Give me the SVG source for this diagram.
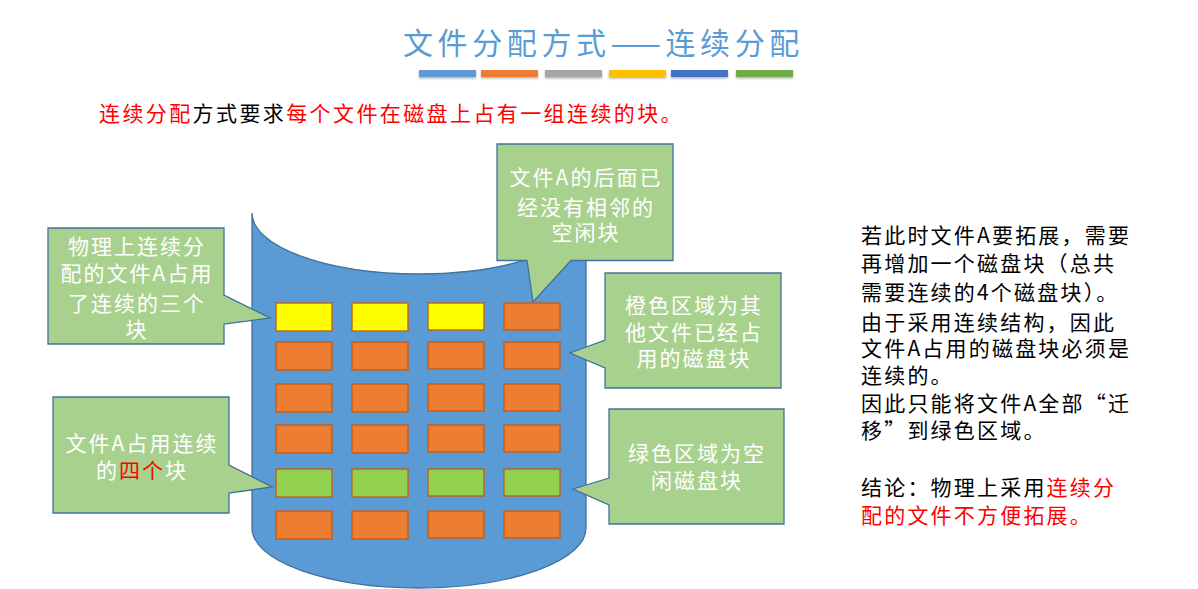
<svg xmlns="http://www.w3.org/2000/svg" width="1198" height="589" viewBox="0 0 1198 589">
<defs>
<style>
.cjk{font-family:"Noto Sans CJK SC","Noto Sans",sans-serif;}
.title{font-size:30px;fill:#5B9BD5;letter-spacing:4.6px;}
.sub{font-size:21px;letter-spacing:2.4px;}
.co{fill:#A9D18E;stroke:#41719C;stroke-width:1.3;}
.ct{font-size:21px;fill:#FFFFFF;letter-spacing:2px;text-anchor:middle;}
.rt{font-size:21px;fill:#000000;letter-spacing:2.2px;}
.red{fill:#FF0000;}
.blk{stroke:#C55A11;stroke-width:1.3;}
.y{fill:#FFFF00;}
.o{fill:#ED7D31;}
.g{fill:#92D050;}
</style>
<filter id="sh" x="-10%" y="-50%" width="120%" height="250%">
<feDropShadow dx="0" dy="1.5" stdDeviation="1.2" flood-color="#000" flood-opacity="0.3"/>
</filter>
</defs>
<rect width="1198" height="589" fill="#FFFFFF"/>

<g id="title">
<text class="cjk title" x="403" y="54">文件分配方式——连续分配</text>
<g filter="url(#sh)">
<rect x="419" y="70" width="57" height="7" fill="#5B9BD5"/>
<rect x="481" y="70" width="57" height="7" fill="#ED7D31"/>
<rect x="545" y="70" width="57" height="7" fill="#A5A5A5"/>
<rect x="609" y="70" width="57" height="7" fill="#FFC000"/>
<rect x="671" y="70" width="57" height="7" fill="#4472C4"/>
<rect x="736" y="70" width="57" height="7" fill="#70AD47"/>
</g>
</g>

<g id="subtitle">
<text class="cjk sub" x="99" y="121"><tspan class="red">连续分配</tspan><tspan fill="#000000">方式要求</tspan><tspan class="red">每个文件在磁盘上占有一组连续的块。</tspan></text>
</g>

<g id="disk">
<path d="M252,213 A167,61 0 0 0 586,213 L586,528 A167,60 0 0 1 252,528 Z" fill="#5B9BD5" stroke="#41719C" stroke-width="1.3"/>
<g id="blocks">
<rect class="blk y" x="276" y="303" width="56" height="28"/>
<rect class="blk y" x="352" y="303" width="56" height="28"/>
<rect class="blk y" x="428" y="303" width="56" height="27"/>
<rect class="blk o" x="504" y="303" width="56" height="27"/>

<rect class="blk o" x="276" y="342" width="56" height="28"/>
<rect class="blk o" x="352" y="342" width="56" height="28"/>
<rect class="blk o" x="428" y="342" width="56" height="27"/>
<rect class="blk o" x="504" y="342" width="56" height="27"/>

<rect class="blk o" x="276" y="384" width="56" height="28"/>
<rect class="blk o" x="352" y="384" width="56" height="28"/>
<rect class="blk o" x="428" y="384" width="56" height="27"/>
<rect class="blk o" x="504" y="384" width="56" height="27"/>

<rect class="blk o" x="276" y="425" width="56" height="28"/>
<rect class="blk o" x="352" y="425" width="56" height="28"/>
<rect class="blk o" x="428" y="425" width="56" height="27"/>
<rect class="blk o" x="504" y="425" width="56" height="27"/>

<rect class="blk g" x="276" y="469" width="56" height="28"/>
<rect class="blk g" x="352" y="469" width="56" height="28"/>
<rect class="blk g" x="428" y="469" width="56" height="27"/>
<rect class="blk g" x="504" y="469" width="56" height="27"/>

<rect class="blk o" x="276" y="511" width="56" height="28"/>
<rect class="blk o" x="352" y="511" width="56" height="28"/>
<rect class="blk o" x="428" y="511" width="56" height="27"/>
<rect class="blk o" x="504" y="511" width="56" height="27"/>
</g>
</g>

<g id="callout-a3">
<path class="co" d="M48,228 H224 V295 L270,318 L224,324 V344 H48 Z"/>
<text class="cjk ct" x="137" y="254">物理上连续分</text>
<text class="cjk ct" x="137" y="281">配的文件A占用</text>
<text class="cjk ct" x="137" y="311">了连续的三个</text>
<text class="cjk ct" x="137" y="337">块</text>
</g>

<g id="callout-noadj">
<path class="co" d="M497,144 H673 V260.5 H571 L533,302 L527,260.5 H497 Z"/>
<text class="cjk ct" x="586" y="185">文件A的后面已</text>
<text class="cjk ct" x="586" y="215">经没有相邻的</text>
<text class="cjk ct" x="586" y="240">空闲块</text>
</g>

<g id="callout-orange">
<path class="co" d="M605,273 H781 V388 H605 V368 L570,353 L605,340 Z"/>
<text class="cjk ct" x="694" y="313">橙色区域为其</text>
<text class="cjk ct" x="694" y="340">他文件已经占</text>
<text class="cjk ct" x="694" y="366">用的磁盘块</text>
</g>

<g id="callout-a4">
<path class="co" d="M53,397 H229 V465 L272,487 L229,493 V513 H53 Z"/>
<text class="cjk ct" x="142" y="451">文件A占用连续</text>
<text class="cjk ct" x="142" y="478">的<tspan class="red">四个</tspan>块</text>
</g>

<g id="callout-green">
<path class="co" d="M609,409 H784 V524 H609 V505 L573,489 L609,478 Z"/>
<text class="cjk ct" x="697" y="461">绿色区域为空</text>
<text class="cjk ct" x="697" y="488">闲磁盘块</text>
</g>

<g id="notes">
<text class="cjk rt" x="861" y="243">若此时文件A要拓展，需要</text>
<text class="cjk rt" x="861" y="271">再增加一个磁盘块（总共</text>
<text class="cjk rt" x="861" y="300">需要连续的4个磁盘块）。</text>
<text class="cjk rt" x="861" y="330">由于采用连续结构，因此</text>
<text class="cjk rt" x="861" y="356">文件A占用的磁盘块必须是</text>
<text class="cjk rt" x="861" y="383">连续的。</text>
<text class="cjk rt" x="861" y="411">因此只能将文件A全部“迁</text>
<text class="cjk rt" x="861" y="438">移”到绿色区域。</text>
<text class="cjk rt" x="861" y="495">结论：物理上采用<tspan class="red">连续分</tspan></text>
<text class="cjk rt red" x="861" y="523">配的文件不方便拓展。</text>
</g>
</svg>
